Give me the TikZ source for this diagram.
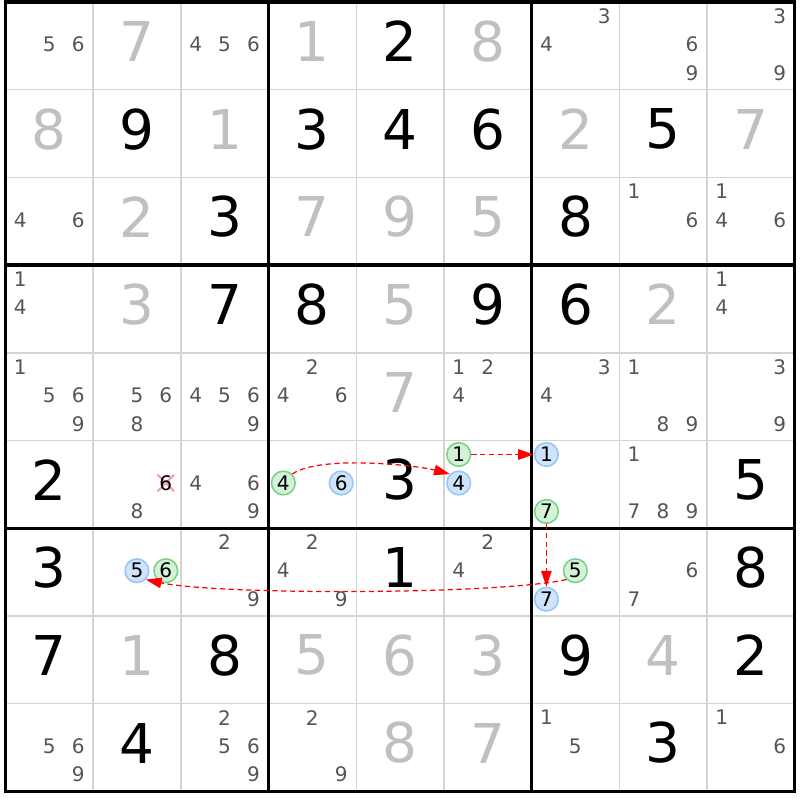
\documentclass[tikz,border=0pt]{standalone}
\usepackage{fontspec}
\setmainfont{DejaVu Sans}
\usetikzlibrary{arrows.meta,positioning}

\definecolor{solvedgray}{RGB}{192,192,192}
\definecolor{candgray}{RGB}{85,85,85}
\definecolor{gridgray}{RGB}{212,212,212}
\definecolor{chainblue}{RGB}{207,228,250}
\definecolor{chainblueline}{RGB}{150,198,243}
\definecolor{chaingreen}{RGB}{212,242,216}
\definecolor{chaingreenline}{RGB}{122,208,134}
\definecolor{crosspink}{RGB}{243,160,170}

\begin{document}
\begin{tikzpicture}[
    given/.style={inner sep=0pt, font=\fontsize{17.8}{20}\selectfont},
    solved/.style={given, text=solvedgray},
    cand/.style={inner sep=0pt, text=candgray, font=\fontsize{6.5}{7}\selectfont},
    oncand/.style={cand, circle, minimum size=0.27cm, text=black, draw=chainblueline, fill=chainblue, line width=0.5pt},
    offcand/.style={oncand, draw=chaingreenline, fill=chaingreen},
    link/.style={red, dashed, dash pattern=on 0.6mm off 0.4mm, line width=0.4pt, -{Triangle[length=1.8mm,width=1.2mm]}}
  ]
  \useasboundingbox (-0.063,0.023) rectangle (9.06,-9.10);

  % Raster
  \foreach \i in {1,2,4,5,7,8} {
    \draw[gridgray, line width=0.5pt] (\i,0) -- (\i,-9);
    \draw[gridgray, line width=0.5pt] (0,-\i) -- (9,-\i);
  }
  \foreach \i in {3,6} {
    \draw[line width=1.05pt] (\i,0) -- (\i,-9);
    \draw[line width=1.05pt] (0,-\i) -- (9,-\i);
  }
  \draw[line width=1.05pt] (0,0) rectangle (9,-9);

  % Gegeven cijfers
  \foreach \rw/\cl/\dg in {0/4/2, 1/1/9, 1/3/3, 1/4/4, 1/5/6, 1/7/5, 2/2/3, 2/6/8,
      3/2/7, 3/3/8, 3/5/9, 3/6/6, 5/0/2, 5/4/3, 5/8/5, 6/0/3, 6/4/1, 6/8/8,
      7/0/7, 7/2/8, 7/6/9, 7/8/2, 8/1/4, 8/7/3}
    \node[given] (v\rw\cl) at (\cl+0.5,-\rw-0.45) {\dg};

  % Opgeloste cijfers
  \foreach \rw/\cl/\dg in {0/1/7, 0/3/1, 0/5/8, 1/0/8, 1/2/1, 1/6/2, 1/8/7, 2/1/2,
      2/3/7, 2/4/9, 2/5/5, 3/1/3, 3/4/5, 3/7/2, 4/4/7, 7/1/1, 7/3/5, 7/4/6,
      7/5/3, 7/7/4, 8/4/8, 8/5/7}
    \node[solved] (v\rw\cl) at (\cl+0.5,-\rw-0.45) {\dg};

  % Kandidaten
  \foreach \rw/\cl/\ds in {0/0/{5,6}, 0/2/{4,5,6}, 0/6/{3,4}, 0/7/{6,9}, 0/8/{3,9},
      2/0/{4,6}, 2/7/{1,6}, 2/8/{1,4,6}, 3/0/{1,4}, 3/8/{1,4},
      4/0/{1,5,6,9}, 4/1/{5,6,8}, 4/2/{4,5,6,9}, 4/3/{2,4,6}, 4/5/{1,2,4},
      4/6/{3,4}, 4/7/{1,8,9}, 4/8/{3,9}, 5/1/{8}, 5/2/{4,6,9}, 5/7/{1,7,8,9},
      6/2/{2,9}, 6/3/{2,4,9}, 6/5/{2,4}, 6/7/{6,7},
      8/0/{5,6,9}, 8/2/{2,5,6,9}, 8/3/{2,9}, 8/6/{1,5}, 8/8/{1,6}} {
    \foreach \dg in \ds {
      \pgfmathsetmacro\cx{\cl+0.168+0.33*mod(\dg-1,3)}
      \pgfmathsetmacro\cy{-\rw-0.16-0.325*floor((\dg-1)/3)}
      \node[cand] (n\rw\cl\dg) at (\cx,\cy) {\dg};
    }
  }

  % Keten
  \foreach \rw/\cl/\dg/\kind in {5/3/4/offcand, 5/3/6/oncand, 5/5/1/offcand, 5/5/4/oncand,
      5/6/1/oncand, 5/6/7/offcand, 6/6/5/offcand, 6/6/7/oncand, 6/1/5/oncand, 6/1/6/offcand} {
    \pgfmathsetmacro\cx{\cl+0.168+0.33*mod(\dg-1,3)}
    \pgfmathsetmacro\cy{-\rw-0.16-0.325*floor((\dg-1)/3)}
    \node[\kind] (n\rw\cl\dg) at (\cx,\cy) {\dg};
  }

  % Weggestreepte kandidaat
  \draw[crosspink, line width=0.7pt] (1.733,-5.39) -- (1.923,-5.58) (1.923,-5.39) -- (1.733,-5.58);
  \node[cand, text=black] (n516) at (1.828,-5.485) {6};

  % Pijlen
  \draw[link] (n534.north east) to[out=35,in=165,looseness=0.55] (n554.north west);
  \draw[link] (n551) -- (n561);
  \draw[link] (n567) -- (n667);
  \draw[link] (n665.south west) to[out=192,in=-12,looseness=0.45] (n615.south east);

\end{tikzpicture}
\end{document}
